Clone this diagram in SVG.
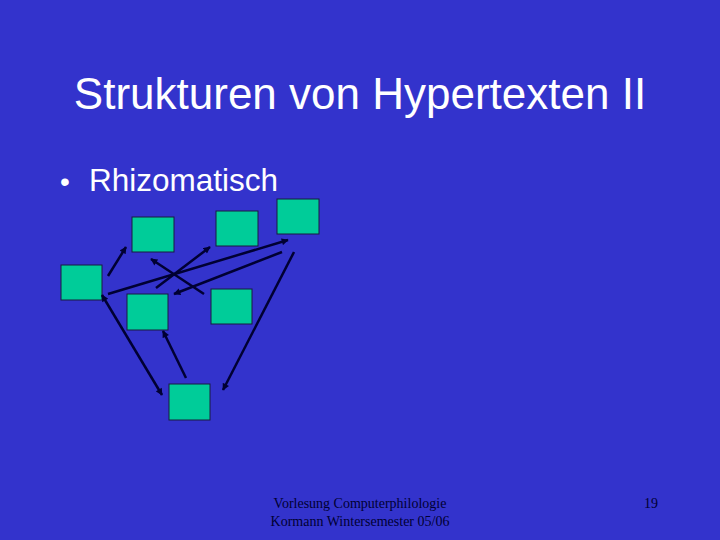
<svg xmlns="http://www.w3.org/2000/svg" width="720" height="540" viewBox="0 0 720 540">
<defs>
<marker id="ah" viewBox="0 0 10 10" refX="9" refY="5" markerWidth="8" markerHeight="7" orient="auto-start-reverse" markerUnits="userSpaceOnUse"><path d="M0,0 L10,5 L0,10 z" fill="#000033"/></marker>
<style>
.box{fill:#00CC99;stroke:#1a1a40;stroke-width:1}
.c line{stroke:#000033;stroke-width:2.5;marker-end:url(#ah)}
.t{font-family:"Liberation Sans",Arial,sans-serif;fill:#fff}
.f{font-family:"Liberation Serif","Times New Roman",serif;fill:#000033;font-size:14px}
</style>
</defs>
<rect width="720" height="540" fill="#3333CC"/>
<text class="t" x="360" y="109" font-size="44" text-anchor="middle">Strukturen von Hypertexten II</text>
<text class="t" x="60" y="191" font-size="28">•</text>
<text class="t" x="89" y="191" font-size="31.5">Rhizomatisch</text>
<g id="nA"><rect class="box" x="132" y="217" width="42" height="35"/></g>
<g id="nB"><rect class="box" x="216" y="211" width="42" height="35"/></g>
<g id="nC"><rect class="box" x="277" y="199" width="42" height="35"/></g>
<g id="nD"><rect class="box" x="61" y="265" width="41" height="35"/></g>
<g id="nE"><rect class="box" x="127" y="294" width="41" height="36"/></g>
<g id="nF"><rect class="box" x="211" y="289" width="41" height="35"/></g>
<g id="nG"><rect class="box" x="169" y="384" width="41" height="36"/></g>
<g class="c" id="connectors">
<line x1="108" y1="276" x2="126" y2="247"/>
<line x1="204" y1="294" x2="151" y2="259"/>
<line x1="156" y1="288" x2="210" y2="247"/>
<line x1="108" y1="294" x2="288" y2="240"/>
<line x1="282" y1="252" x2="174" y2="294"/>
<line x1="294" y1="252" x2="223" y2="390"/>
<line x1="102" y1="295" x2="162" y2="395" marker-start="url(#ah)"/>
<line x1="186" y1="378" x2="163" y2="331"/>
</g>
<text class="f" x="360" y="508" text-anchor="middle">Vorlesung Computerphilologie</text>
<text class="f" x="360" y="526" text-anchor="middle">Kormann Wintersemester 05/06</text>
<text class="f" x="651" y="508" text-anchor="middle">19</text>
</svg>
